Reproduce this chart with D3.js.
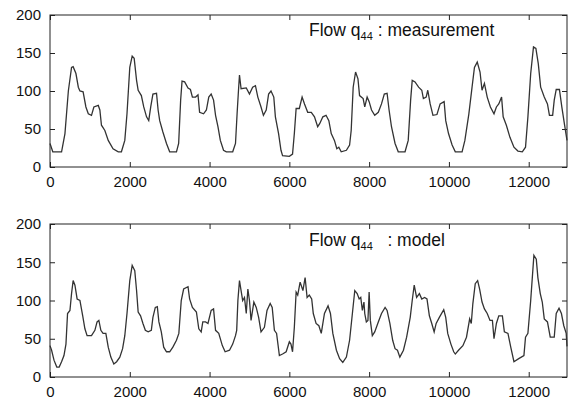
<!DOCTYPE html>
<html>
<head>
<meta charset="utf-8">
<script src="https://cdn.jsdelivr.net/npm/d3@7"></script>
<style>
  body { margin: 0; background: #fff; }
  svg { font-family: "Liberation Sans", Arial, sans-serif; }
</style>
</head>
<body>
<svg id="chart" width="573" height="403"></svg>
<script>
// time axis (minutes) and flow values
var tMeas = [0, 70, 290, 375, 460, 540, 580, 650, 710, 750, 830, 900, 960, 1040, 1100, 1210, 1250, 1290, 1375, 1460, 1580, 1710, 1790, 1875, 1930, 2000, 2060, 2110, 2170, 2210, 2290, 2350, 2420, 2475, 2525, 2580, 2670, 2710, 2750, 2830, 2920, 3000, 3170, 3225, 3275, 3310, 3375, 3460, 3520, 3570, 3650, 3710, 3750, 3850, 3920, 3980, 4040, 4100, 4150, 4210, 4270, 4350, 4420, 4580, 4650, 4690, 4725, 4750, 4790, 4920, 5000, 5080, 5150, 5210, 5290, 5350, 5420, 5480, 5540, 5610, 5650, 5730, 5790, 5830, 6000, 6080, 6125, 6170, 6250, 6320, 6380, 6460, 6550, 6630, 6710, 6760, 6840, 6920, 6990, 7050, 7130, 7190, 7240, 7300, 7430, 7510, 7550, 7600, 7660, 7720, 7760, 7850, 7890, 7950, 8000, 8060, 8140, 8230, 8310, 8380, 8450, 8500, 8560, 8650, 8730, 8900, 8980, 9040, 9080, 9150, 9240, 9320, 9360, 9430, 9470, 9530, 9600, 9700, 9780, 9880, 9920, 9990, 10080, 10160, 10330, 10400, 10500, 10580, 10640, 10710, 10780, 10830, 10890, 10960, 11040, 11130, 11190, 11250, 11320, 11360, 11440, 11530, 11630, 11730, 11840, 11920, 11980, 12050, 12120, 12180, 12240, 12300, 12390, 12470, 12520, 12600, 12640, 12690, 12770, 12830, 12900, 12960]
var qMeas = [31, 20, 20, 44, 100, 131, 132, 123, 105, 100, 99, 79, 70, 68, 79, 81, 75, 55, 48, 35, 24, 20, 20, 35, 70, 131, 146, 143, 114, 101, 94, 79, 66, 61, 79, 96, 97, 75, 61, 46, 31, 20, 20, 31, 88, 113, 112, 104, 102, 92, 92, 95, 72, 70, 75, 92, 96, 88, 68, 53, 35, 22, 20, 20, 31, 70, 101, 121, 103, 104, 96, 105, 107, 92, 79, 68, 75, 96, 100, 92, 66, 44, 22, 15, 14, 17, 44, 77, 77, 92, 83, 72, 72, 66, 53, 57, 66, 68, 61, 44, 35, 24, 26, 20, 22, 29, 48, 105, 125, 116, 94, 90, 79, 92, 86, 75, 68, 72, 83, 96, 97, 75, 53, 31, 20, 20, 35, 88, 114, 112, 105, 101, 90, 92, 101, 83, 68, 69, 83, 86, 61, 44, 29, 20, 20, 35, 70, 105, 131, 138, 125, 101, 110, 92, 79, 70, 79, 83, 92, 66, 55, 39, 26, 21, 20, 26, 66, 123, 158, 156, 136, 105, 92, 83, 68, 68, 88, 102, 102, 79, 55, 35]

var tModel = [0, 40, 100, 170, 230, 290, 350, 400, 440, 500, 540, 580, 625, 680, 750, 820, 875, 930, 1040, 1125, 1180, 1225, 1275, 1330, 1400, 1460, 1525, 1600, 1670, 1750, 1820, 1875, 1930, 2000, 2060, 2125, 2170, 2210, 2270, 2330, 2390, 2460, 2540, 2580, 2640, 2690, 2730, 2790, 2850, 2920, 3000, 3080, 3170, 3230, 3290, 3350, 3460, 3500, 3570, 3670, 3730, 3790, 3830, 3900, 3960, 4040, 4100, 4150, 4230, 4320, 4390, 4500, 4580, 4650, 4680, 4710, 4750, 4790, 4830, 4875, 4920, 4960, 5000, 5040, 5110, 5170, 5230, 5290, 5375, 5440, 5520, 5570, 5625, 5680, 5750, 5830, 5920, 6000, 6040, 6080, 6125, 6170, 6210, 6270, 6340, 6395, 6445, 6500, 6560, 6600, 6670, 6740, 6800, 6880, 6970, 7030, 7090, 7180, 7260, 7340, 7430, 7510, 7580, 7640, 7700, 7750, 7790, 7830, 7870, 7890, 7930, 7970, 8000, 8030, 8080, 8140, 8230, 8310, 8400, 8450, 8520, 8590, 8650, 8710, 8770, 8860, 8940, 9030, 9080, 9130, 9190, 9260, 9320, 9390, 9450, 9510, 9570, 9630, 9680, 9760, 9870, 9920, 9970, 10050, 10120, 10160, 10240, 10350, 10440, 10520, 10560, 10600, 10660, 10720, 10770, 10830, 10890, 10960, 11030, 11090, 11130, 11190, 11250, 11340, 11390, 11480, 11550, 11630, 11750, 11880, 11920, 11980, 12050, 12130, 12190, 12230, 12290, 12340, 12390, 12470, 12540, 12640, 12690, 12760, 12820, 12880, 12940, 12960]
var qModel = [41, 35, 22, 13, 13, 20, 28, 43, 83, 87, 109, 126, 120, 102, 100, 80, 63, 54, 54, 61, 72, 74, 61, 57, 57, 39, 26, 17, 20, 26, 37, 54, 83, 126, 146, 139, 113, 85, 80, 70, 61, 59, 61, 78, 91, 92, 72, 59, 39, 33, 33, 39, 48, 57, 100, 115, 118, 102, 91, 85, 63, 59, 72, 72, 70, 87, 89, 61, 57, 41, 33, 35, 43, 54, 61, 100, 126, 113, 100, 104, 83, 115, 100, 74, 98, 91, 78, 59, 65, 87, 96, 91, 61, 57, 28, 30, 33, 46, 43, 33, 65, 111, 107, 124, 113, 130, 104, 107, 102, 83, 70, 67, 57, 83, 93, 83, 57, 35, 24, 19, 26, 48, 83, 113, 109, 102, 104, 87, 98, 83, 72, 74, 111, 74, 54, 59, 72, 83, 91, 87, 70, 48, 37, 35, 26, 35, 52, 78, 100, 120, 104, 109, 102, 104, 102, 80, 70, 59, 70, 78, 88, 78, 57, 43, 33, 30, 35, 41, 52, 76, 70, 96, 122, 126, 115, 98, 89, 83, 74, 74, 50, 70, 80, 80, 59, 57, 39, 20, 24, 28, 52, 57, 100, 159, 154, 130, 109, 98, 76, 72, 52, 52, 83, 90, 83, 67, 57, 40]

var xTicks = [0, 2000, 4000, 6000, 8000, 10000, 12000]
var yTicks = [0, 50, 100, 150, 200]

var svg = d3.select("#chart")
var left = 50, right = 567

var x = d3.scaleLinear().domain([0, 12960]).range([left, right])

var panels = [
  {top: 15, bottom: 167, t: tMeas, q: qMeas, title: " : measurement", tx: 309, ty: 36},
  {top: 224, bottom: 377, t: tModel, q: qModel, title: "   : model", tx: 309, ty: 246}
]

panels.forEach(function(p){
  var y = d3.scaleLinear().domain([0, 200]).range([p.bottom, p.top])
  var g = svg.append("g")

  // axes, ticks pointing inward like the original
  g.append("g").attr("transform", "translate(0," + p.bottom + ")")
    .call(d3.axisBottom(x).tickValues(xTicks).tickSizeInner(-5).tickSizeOuter(0).tickPadding(9).tickFormat(d3.format("d")))
  g.append("g").attr("transform", "translate(0," + p.top + ")")
    .call(d3.axisTop(x).tickValues(xTicks).tickSizeInner(-5).tickSizeOuter(0).tickFormat(""))
  g.append("g").attr("transform", "translate(" + left + ",0)")
    .call(d3.axisLeft(y).tickValues(yTicks).tickSizeInner(-5).tickSizeOuter(0).tickPadding(9))
  g.append("g").attr("transform", "translate(" + right + ",0)")
    .call(d3.axisRight(y).tickValues(yTicks).tickSizeInner(-5).tickSizeOuter(0).tickFormat(""))

  g.selectAll(".domain").remove()
  g.selectAll(".tick line").attr("stroke", "#222")
  g.selectAll(".tick text")
    .style("font-size", "15px")
    .style("font-family", "Liberation Sans, Arial, sans-serif")
    .attr("fill", "#111")

  g.append("rect")
    .attr("x", left).attr("y", p.top)
    .attr("width", right - left).attr("height", p.bottom - p.top)
    .attr("fill", "none").attr("stroke", "#222").attr("stroke-width", 1)

  var pts = p.t.map(function(d, i){ return [d, p.q[i]] })
  g.append("path")
    .datum(pts)
    .attr("fill", "none")
    .attr("stroke", "#333")
    .attr("stroke-width", 1.3)
    .attr("d", d3.line().x(function(d){ return x(d[0]) }).y(function(d){ return y(d[1]) }))

  var title = g.append("text")
    .attr("x", p.tx).attr("y", p.ty)
    .style("font-size", "17.5px")
    .style("white-space", "pre")
    .attr("fill", "#111")
  title.append("tspan").text("Flow q")
  title.append("tspan").attr("dy", 4).style("font-size", "11px").text("44")
  title.append("tspan").attr("dy", -4).text(p.title)
})
</script>
</body>
</html>
